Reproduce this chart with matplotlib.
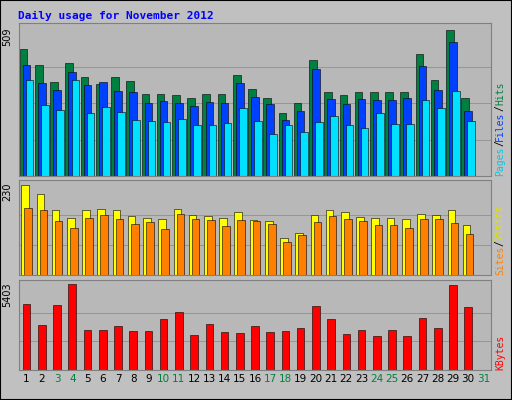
import matplotlib
matplotlib.use("Agg")
import matplotlib.pyplot as plt
import numpy as np

days = list(range(1, 32))
weekends = [3, 4, 10, 11, 17, 18, 24, 25, 31]
hits = [443,387,328,394,345,321,345,331,286,286,283,272,286,286,352,304,272,220,255,405,293,283,293,293,293,293,426,335,509,272,0]
files = [387,324,300,363,318,328,297,293,255,262,255,244,258,255,324,276,251,195,227,373,269,251,269,265,265,272,384,300,468,227,0]
pages = [335,248,230,335,220,241,223,195,192,188,199,178,178,185,237,192,147,178,154,188,209,178,167,220,181,181,265,237,297,192,0]
visits = [230,205,166,146,166,169,164,151,146,143,169,153,151,146,161,141,138,95,107,153,164,159,148,146,146,143,156,153,166,128,0]
sites = [171,164,138,120,146,153,143,130,136,118,156,143,141,125,141,138,130,84,102,136,151,143,138,128,128,120,143,143,133,105,0]
kbytes = [4146,2827,4083,5403,2513,2513,2764,2450,2450,3204,3643,2199,2890,2387,2325,2764,2387,2450,2638,4020,3204,2262,2513,2136,2513,2136,3266,2638,5340,3958,0]

W, H = 512, 400
fig = plt.figure(figsize=(W/100, H/100), dpi=100, facecolor="#C0C0C0")
fig.patches.append(plt.Rectangle((0, 0), 1, 1, transform=fig.transFigure, fill=False, ec="#000000", lw=1.5))
fig.text(18/W, 1-16/H, "Daily usage for November 2012", color="#0000FF",
         fontsize=8, fontweight="bold", family="DejaVu Sans Mono", va="center")

def pax(top, bottom):
    return fig.add_axes([19/W, 1-bottom/H, (491-19)/W, (bottom-top)/H], facecolor="#B8B8B8")

x = np.array(days)
bw = 0.5
def style(ax, ymax, label):
    ax.set_xlim(0.5, 31.5)
    ax.set_ylim(0, ymax*1.05)
    ax.set_xticks([]); ax.set_yticks([])
    ax.yaxis.grid(True, color="#909090", lw=0.6); ax.set_axisbelow(True)
    for s in ax.spines.values():
        s.set_color("#808080")
    ax.text(-0.025, 0.97, label, transform=ax.transAxes, rotation=90, ha="center", va="top", fontsize=7)

def bars(ax, vals, off, color):
    ax.bar(x + off, vals, width=bw, color=color, edgecolor="#000000", lw=0.4, align="center")

a1 = pax(23, 176)
bars(a1, hits, -0.2, "#008040"); bars(a1, files, 0.0, "#0040FF"); bars(a1, pages, 0.2, "#00E0FF")
style(a1, max(hits), "509")
a1.set_yticks(np.linspace(0, 509, 5)[1:-1]); a1.set_yticklabels([]); a1.tick_params(length=0)

a2 = pax(180, 275)
bars(a2, visits, -0.1, "#FFFF00"); bars(a2, sites, 0.1, "#FF8000")
style(a2, max(visits), "230")
a2.set_yticks(np.linspace(0, 230, 4)[1:-1]); a2.set_yticklabels([]); a2.tick_params(length=0)

a3 = pax(280, 370)
bars(a3, kbytes, 0.0, "#FF0000")
style(a3, max(kbytes), "5403")
a3.set_yticks(np.linspace(0, 5403, 4)[1:-1]); a3.set_yticklabels([]); a3.tick_params(length=0)

a3.set_xticks(x)
a3.set_xticklabels([str(d) for d in days], fontsize=7.5)
a3.tick_params(axis="x", length=0, pad=3)
for lab, d in zip(a3.get_xticklabels(), days):
    lab.set_color("#008040" if d in weekends else "#000000")

def rlabel(ax, parts):
    fx = 500/W
    ypos = ax.get_position().y0
    for txt, col in parts:
        fig.text(fx, ypos, txt, rotation=90, color=col, fontsize=7, family="DejaVu Sans Mono",
                 ha="center", va="bottom")
        ypos += len(txt) * 5.9 / H

rlabel(a1, [("Pages", "#00C8E8"), ("/", "#000000"), ("Files", "#0040FF"), ("/", "#000000"), ("Hits", "#008040")])
rlabel(a2, [("Sites", "#FF8000"), ("/", "#000000"), ("Visits", "#E0E000")])
rlabel(a3, [("KBytes", "#FF0000")])

fig.savefig("out.png", dpi=100, facecolor=fig.get_facecolor())
